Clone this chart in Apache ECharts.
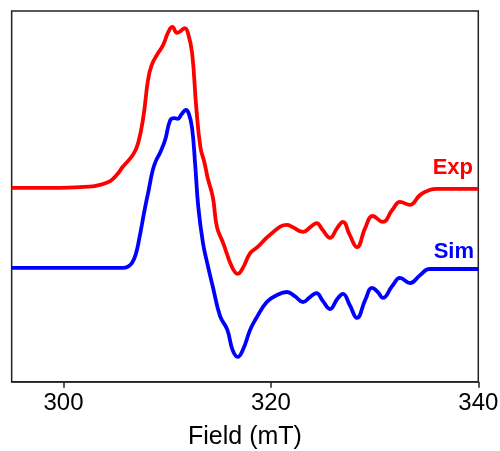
<!DOCTYPE html>
<html>
<head>
<meta charset="utf-8">
<title>EPR spectrum</title>
<script src="https://cdn.jsdelivr.net/npm/echarts@6/dist/echarts.min.js"></script>
<style>
    html, body { margin: 0; padding: 0; background: #fff; }
    #chart { width: 500px; height: 451px; }
</style>
</head>
<body>
<div id="chart"></div>
<script>
// Field positions (mT) and signal (arb. units)
var expField = [295.0, 299.7, 302.5, 303.5, 304.5, 305.2, 305.7, 306.7, 307.2, 307.7,
    308.15, 308.5, 309.0, 309.6, 310.1, 310.5, 310.95, 311.3, 311.7, 312.0,
    312.4, 312.8, 313.2, 313.6, 313.9, 314.4, 314.8, 315.4, 316.25, 316.8,
    317.3, 318.0, 318.7, 319.9, 321.55, 322.1, 323.1, 323.8, 324.4, 325.0,
    325.7, 326.4, 326.95, 327.6, 328.3, 329.1, 329.8, 330.8, 331.7, 332.45,
    333.4, 334.4, 335.3, 336.0, 340.0];
var expSignal = [52.3, 52.3, 52.6, 53.1, 54.1, 56.0, 57.9, 61.2, 64.4, 71.4,
    81.4, 85.4, 88.1, 90.8, 94.3, 95.7, 94.1, 94.6, 95.4, 94.1,
    88.7, 74.1, 63.3, 59.0, 55.0, 49.8, 41.7, 37.4, 30.9, 29.1,
    30.7, 34.7, 36.3, 39.6, 42.3, 41.7, 40.4, 41.7, 42.8, 40.9,
    38.8, 41.5, 43.1, 39.6, 36.3, 41.5, 44.7, 43.1, 46.3, 48.5,
    47.7, 50.4, 51.7, 52.0, 52.0];

var simField = [295.0, 305.7, 306.2, 306.6, 306.95, 307.3, 307.8, 308.2, 308.6, 308.9,
    309.3, 309.8, 310.3, 310.7, 311.0, 311.4, 311.8, 312.1, 312.4, 312.7,
    313.0, 313.45, 313.9, 314.4, 315.1, 315.8, 316.3, 316.8, 317.3, 318.0,
    318.5, 319.6, 320.6, 321.55, 322.3, 323.1, 323.8, 324.4, 325.0, 325.7,
    326.4, 326.95, 327.6, 328.3, 329.1, 329.75, 330.3, 330.8, 331.7, 332.45,
    333.4, 334.4, 335.3, 340.0];
var simSignal = [30.7, 30.7, 31.0, 32.0, 34.2, 38.5, 46.0, 51.5, 57.0, 59.5,
    61.7, 65.2, 70.6, 71.1, 70.9, 72.2, 73.3, 72.2, 68.4, 58.5,
    47.1, 37.4, 31.5, 25.6, 17.7, 14.0, 8.6, 6.7, 8.6, 14.0,
    16.7, 21.5, 23.4, 24.2, 23.1, 21.5, 22.9, 23.9, 21.8, 19.6,
    22.3, 23.7, 20.7, 17.2, 22.1, 25.3, 24.2, 22.6, 25.8, 28.0,
    26.6, 28.8, 30.4, 30.4];

var fieldTicks = [300, 320, 340];
var seriesNames = ["Exp", "Sim"];
var seriesColors = ["#ff0000", "#0000ff"];

/**
 * Zips two arrays into [x, y] pairs.
 *
 * @param {number[]} xs
 * @param {number[]} ys
 * @return {Array} Pairs for a line series.
 */
function zipPoints(xs, ys) {
    var out = [];
    for (var i = 0; i < xs.length; i++) {
        out.push([xs[i], ys[i]]);
    }
    return out;
}

/**
 * Builds one spectrum line.
 */
function makeLine(name, color, points) {
    return {
        name: name,
        type: "line",
        data: points,
        smooth: 0.45,
        showSymbol: false,
        symbol: "none",
        lineStyle: { color: color, width: 3.8 },
        itemStyle: { color: color },
        silent: true,
        animation: false,
    };
}

var chart = echarts.init(document.getElementById("chart"), null, { renderer: "canvas" });

var labelFont = "'Liberation Sans', Arial, Helvetica, sans-serif";

var options = {
    backgroundColor: "#fff",
    animation: false,
    grid: {
        left: 11.65,
        right: 21.7,
        top: 11,
        bottom: 69.3,
        outerBoundsMode: "none", // v6 would otherwise shrink the grid to fit the axis name
        show: true,
        borderColor: "#222",
        borderWidth: 1.5,
        backgroundColor: "transparent",
    },
    xAxis: {
        type: "value",
        min: 295,
        max: 340,
        name: "Field (mT)",
        nameLocation: "middle",
        nameGap: 43,
        nameTextStyle: { fontFamily: labelFont, fontSize: 25, color: "#000" },
        axisLine: { show: true, lineStyle: { color: "#222", width: 1.5 } },
        axisTick: {
            show: true,
            customValues: fieldTicks,
            length: 6,
            lineStyle: { color: "#222", width: 1.5 },
        },
        axisLabel: {
            customValues: fieldTicks,
            margin: 10,
            fontFamily: labelFont,
            fontSize: 24,
            color: "#000",
        },
        splitLine: { show: false },
    },
    yAxis: {
        type: "value",
        min: 0,
        max: 100,
        axisLine: { show: false },
        axisTick: { show: false },
        axisLabel: { show: false },
        splitLine: { show: false },
    },
    series: [
        makeLine(seriesNames[0], seriesColors[0], zipPoints(expField, expSignal)),
        makeLine(seriesNames[1], seriesColors[1], zipPoints(simField, simSignal)),
    ],
    graphic: [
        {
            type: "text",
            right: 27,
            top: 157,
            style: {
                text: seriesNames[0],
                fill: seriesColors[0],
                font: "bold 22px " + labelFont,
            },
        },
        {
            type: "text",
            right: 26,
            top: 241,
            style: {
                text: seriesNames[1],
                fill: seriesColors[1],
                font: "bold 22px " + labelFont,
            },
        },
    ],
};

chart.setOption(options);
</script>
</body>
</html>
